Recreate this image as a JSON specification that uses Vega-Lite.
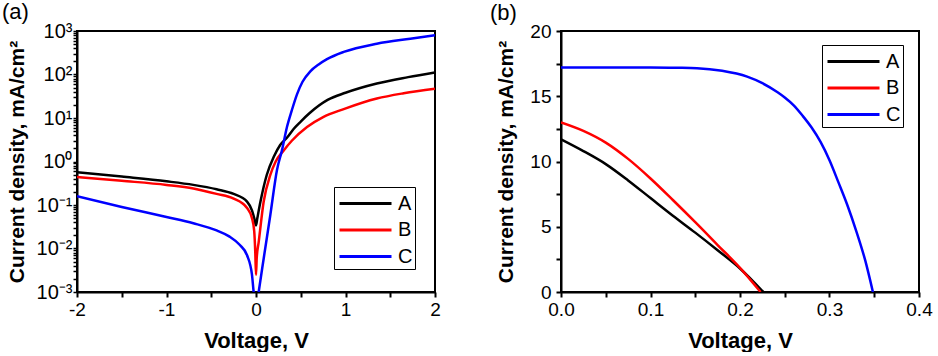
{
  "$schema": "https://vega.github.io/schema/vega-lite/v6.json",
  "background": "white",
  "padding": {"left": 1, "top": 0, "right": 3, "bottom": 0},
  "bounds": "flush",
  "spacing": 126,
  "config": {
    "font": "Liberation Sans",
    "view": {"stroke": "black", "strokeWidth": 2},
    "axis": {
      "domainColor": "black", "domainWidth": 2,
      "labelFlush": false,
      "labelFont": "Liberation Sans", "labelFontSize": 19, "labelColor": "black",
      "titleFont": "Liberation Sans", "titleFontSize": 21, "titleFontWeight": "bold", "titleColor": "black",
      "grid": false
    },
    "legend": {
      "orient": "none", "title": null,
      "strokeColor": "black", "strokeWidth": 1, "fillColor": "white",
      "padding": 2,
      "symbolType": "M-2,0L2,0",
      "symbolSize": 676, "symbolStrokeWidth": 3,
      "labelFont": "Liberation Sans", "labelFontSize": 20, "labelColor": "black",
      "rowPadding": 1.5, "symbolOffset": 15, "labelOffset": 18
    },
    "title": {"fontSize": 22, "fontWeight": "normal", "anchor": "start", "frame": "group", "color": "black", "font": "Liberation Sans"}
  },
  "resolve": {"legend": {"color": "independent"}, "scale": {"color": "independent"}},
  "datasets": {
    "iv": [
      {"s": "A", "V": -2, "J": 0.57}, {"s": "A", "V": -1.5, "J": 0.45}, {"s": "A", "V": -1, "J": 0.35}, {"s": "A", "V": -0.7, "J": 0.29},
      {"s": "A", "V": -0.44, "J": 0.23}, {"s": "A", "V": -0.25, "J": 0.18}, {"s": "A", "V": -0.1, "J": 0.12}, {"s": "A", "V": -0.045, "J": 0.075},
      {"s": "A", "V": -0.02, "J": 0.05}, {"s": "A", "V": 0, "J": 0.034}, {"s": "A", "V": 0.015, "J": 0.05}, {"s": "A", "V": 0.05, "J": 0.12},
      {"s": "A", "V": 0.12, "J": 0.49}, {"s": "A", "V": 0.2, "J": 1.3}, {"s": "A", "V": 0.27, "J": 2.4}, {"s": "A", "V": 0.35, "J": 3.6},
      {"s": "A", "V": 0.42, "J": 5.6}, {"s": "A", "V": 0.5, "J": 8.3}, {"s": "A", "V": 0.6, "J": 13}, {"s": "A", "V": 0.8, "J": 26},
      {"s": "A", "V": 1.0, "J": 38}, {"s": "A", "V": 1.35, "J": 62}, {"s": "A", "V": 1.7, "J": 87}, {"s": "A", "V": 2.0, "J": 112},
      {"s": "B", "V": -2, "J": 0.44}, {"s": "B", "V": -1.5, "J": 0.36}, {"s": "B", "V": -1, "J": 0.29}, {"s": "B", "V": -0.7, "J": 0.24},
      {"s": "B", "V": -0.44, "J": 0.18}, {"s": "B", "V": -0.25, "J": 0.14}, {"s": "B", "V": -0.1, "J": 0.085}, {"s": "B", "V": -0.045, "J": 0.05},
      {"s": "B", "V": -0.02, "J": 0.025}, {"s": "B", "V": -0.008, "J": 0.008}, {"s": "B", "V": 0, "J": 0.0025}, {"s": "B", "V": 0.008, "J": 0.006},
      {"s": "B", "V": 0.03, "J": 0.014}, {"s": "B", "V": 0.086, "J": 0.12}, {"s": "B", "V": 0.16, "J": 0.49}, {"s": "B", "V": 0.22, "J": 1.0},
      {"s": "B", "V": 0.31, "J": 1.8}, {"s": "B", "V": 0.4, "J": 3.0}, {"s": "B", "V": 0.57, "J": 6.2}, {"s": "B", "V": 0.75, "J": 10.5},
      {"s": "B", "V": 0.98, "J": 16}, {"s": "B", "V": 1.35, "J": 28}, {"s": "B", "V": 1.65, "J": 37}, {"s": "B", "V": 2.0, "J": 47},
      {"s": "C", "V": -2, "J": 0.16}, {"s": "C", "V": -1.5, "J": 0.09}, {"s": "C", "V": -1, "J": 0.053}, {"s": "C", "V": -0.7, "J": 0.038},
      {"s": "C", "V": -0.44, "J": 0.026}, {"s": "C", "V": -0.3, "J": 0.019}, {"s": "C", "V": -0.18, "J": 0.012}, {"s": "C", "V": -0.1, "J": 0.007},
      {"s": "C", "V": -0.045, "J": 0.0025}, {"s": "C", "V": -0.026, "J": 0.001}, {"s": "C", "V": -0.01, "J": 0.0006}, {"s": "C", "V": 0.015, "J": 0.0006},
      {"s": "C", "V": 0.03, "J": 0.001}, {"s": "C", "V": 0.086, "J": 0.0059}, {"s": "C", "V": 0.16, "J": 0.059}, {"s": "C", "V": 0.235, "J": 0.65},
      {"s": "C", "V": 0.29, "J": 1.8}, {"s": "C", "V": 0.346, "J": 6.2}, {"s": "C", "V": 0.4, "J": 15}, {"s": "C", "V": 0.458, "J": 35},
      {"s": "C", "V": 0.52, "J": 68}, {"s": "C", "V": 0.607, "J": 118}, {"s": "C", "V": 0.7, "J": 170}, {"s": "C", "V": 0.793, "J": 225},
      {"s": "C", "V": 0.98, "J": 330}, {"s": "C", "V": 1.35, "J": 510}, {"s": "C", "V": 1.724, "J": 665}, {"s": "C", "V": 2.0, "J": 800}
    ],
    "jv": [
      {"s": "A", "V": 0, "J": 11.7}, {"s": "A", "V": 0.025, "J": 10.8}, {"s": "A", "V": 0.05, "J": 9.8}, {"s": "A", "V": 0.075, "J": 8.55},
      {"s": "A", "V": 0.1, "J": 7.2}, {"s": "A", "V": 0.125, "J": 5.85}, {"s": "A", "V": 0.15, "J": 4.55}, {"s": "A", "V": 0.175, "J": 3.2},
      {"s": "A", "V": 0.2, "J": 1.8}, {"s": "A", "V": 0.226, "J": 0},
      {"s": "B", "V": 0, "J": 13.0}, {"s": "B", "V": 0.025, "J": 12.35}, {"s": "B", "V": 0.05, "J": 11.45}, {"s": "B", "V": 0.075, "J": 10.2},
      {"s": "B", "V": 0.1, "J": 8.7}, {"s": "B", "V": 0.125, "J": 7.05}, {"s": "B", "V": 0.15, "J": 5.35}, {"s": "B", "V": 0.175, "J": 3.6},
      {"s": "B", "V": 0.2, "J": 1.85}, {"s": "B", "V": 0.223, "J": 0},
      {"s": "C", "V": 0, "J": 17.2}, {"s": "C", "V": 0.05, "J": 17.2}, {"s": "C", "V": 0.1, "J": 17.2}, {"s": "C", "V": 0.13, "J": 17.18},
      {"s": "C", "V": 0.152, "J": 17.15}, {"s": "C", "V": 0.18, "J": 16.95}, {"s": "C", "V": 0.208, "J": 16.5}, {"s": "C", "V": 0.225, "J": 16.0},
      {"s": "C", "V": 0.242, "J": 15.3}, {"s": "C", "V": 0.25, "J": 14.9}, {"s": "C", "V": 0.26, "J": 14.3}, {"s": "C", "V": 0.27, "J": 13.5},
      {"s": "C", "V": 0.28, "J": 12.6}, {"s": "C", "V": 0.29, "J": 11.5}, {"s": "C", "V": 0.3, "J": 10.1}, {"s": "C", "V": 0.31, "J": 8.4},
      {"s": "C", "V": 0.32, "J": 6.65}, {"s": "C", "V": 0.33, "J": 4.65}, {"s": "C", "V": 0.34, "J": 2.4}, {"s": "C", "V": 0.3485, "J": 0}
    ]
  },
  "hconcat": [
    {
      "width": 358, "height": 261,
      "title": {"text": "(a)", "dx": -75, "offset": -3},
      "data": {"name": "iv"},
      "mark": {"type": "line", "strokeWidth": 2.5, "clip": true, "interpolate": "monotone"},
      "encoding": {
        "x": {
          "field": "V", "type": "quantitative",
          "scale": {"domain": [-2, 2], "nice": false, "zero": false},
          "axis": {
            "title": "Voltage, V", "titleFontSize": 22, "titlePadding": 11, "labelPadding": 3,
            "ticks": true, "tickSize": 5, "tickWidth": 2, "tickColor": "black",
            "values": [-2, -1.5, -1, -0.5, 0, 0.5, 1, 1.5, 2],
            "labelExpr": "datum.value % 1 == 0 ? (datum.value < 0 ? '-' + abs(datum.value) : '' + datum.value) : ''"
          }
        },
        "y": {
          "field": "J", "type": "quantitative",
          "scale": {"type": "log", "domain": [0.001, 1000], "nice": false},
          "axis": {
            "title": "Current density, mA/cm²", "titlePadding": 9, "labelPadding": 1, "labelFontSize": 20,
            "ticks": true, "tickSize": 4, "tickWidth": 1.5, "tickColor": "black",
            "values": [0.001,0.002,0.003,0.004,0.005,0.006,0.007,0.008,0.009,0.01,0.02,0.03,0.04,0.05,0.06,0.07,0.08,0.09,0.1,0.2,0.3,0.4,0.5,0.6,0.7,0.8,0.9,1,2,3,4,5,6,7,8,9,10,20,30,40,50,60,70,80,90,100,200,300,400,500,600,700,800,900,1000],
            "labelExpr": "abs(log(datum.value)/LN10 - round(log(datum.value)/LN10)) < 0.000001 ? ['10⁻³','10⁻²','10⁻¹','10⁰','10¹','10²','10³'][round(log(datum.value)/LN10)+3] : ''"
          }
        },
        "color": {
          "field": "s", "type": "nominal",
          "scale": {"domain": ["A", "B", "C"], "range": ["#000000", "#ff0000", "#0000ff"]},
          "legend": {"legendX": 257, "legendY": 156}
        }
      }
    },
    {
      "width": 358, "height": 261,
      "title": {"text": "(b)", "dx": -71, "offset": -3},
      "data": {"name": "jv"},
      "mark": {"type": "line", "strokeWidth": 2.5, "clip": true, "interpolate": "monotone"},
      "encoding": {
        "x": {
          "field": "V", "type": "quantitative",
          "scale": {"domain": [0, 0.4], "nice": false},
          "axis": {
            "title": "Voltage, V", "titleFontSize": 22, "titlePadding": 11, "labelPadding": 3,
            "ticks": true, "tickSize": 5, "tickWidth": 2, "tickColor": "black",
            "values": [0, 0.05, 0.1, 0.15, 0.2, 0.25, 0.3, 0.35, 0.4],
            "labelExpr": "abs(datum.value*10 - round(datum.value*10)) < 0.000001 ? format(datum.value, '.1f') : ''"
          }
        },
        "y": {
          "field": "J", "type": "quantitative",
          "scale": {"domain": [0, 20], "nice": false},
          "axis": {
            "title": "Current density, mA/cm²", "titlePadding": 13, "labelPadding": 5,
            "ticks": true, "tickSize": 5, "tickWidth": 2, "tickColor": "black",
            "values": [0, 2.5, 5, 7.5, 10, 12.5, 15, 17.5, 20],
            "labelExpr": "datum.value % 5 == 0 ? '' + datum.value : ''"
          }
        },
        "color": {
          "field": "s", "type": "nominal",
          "scale": {"domain": ["A", "B", "C"], "range": ["#000000", "#ff0000", "#0000ff"]},
          "legend": {"legendX": 261, "legendY": 14}
        }
      }
    }
  ]
}
